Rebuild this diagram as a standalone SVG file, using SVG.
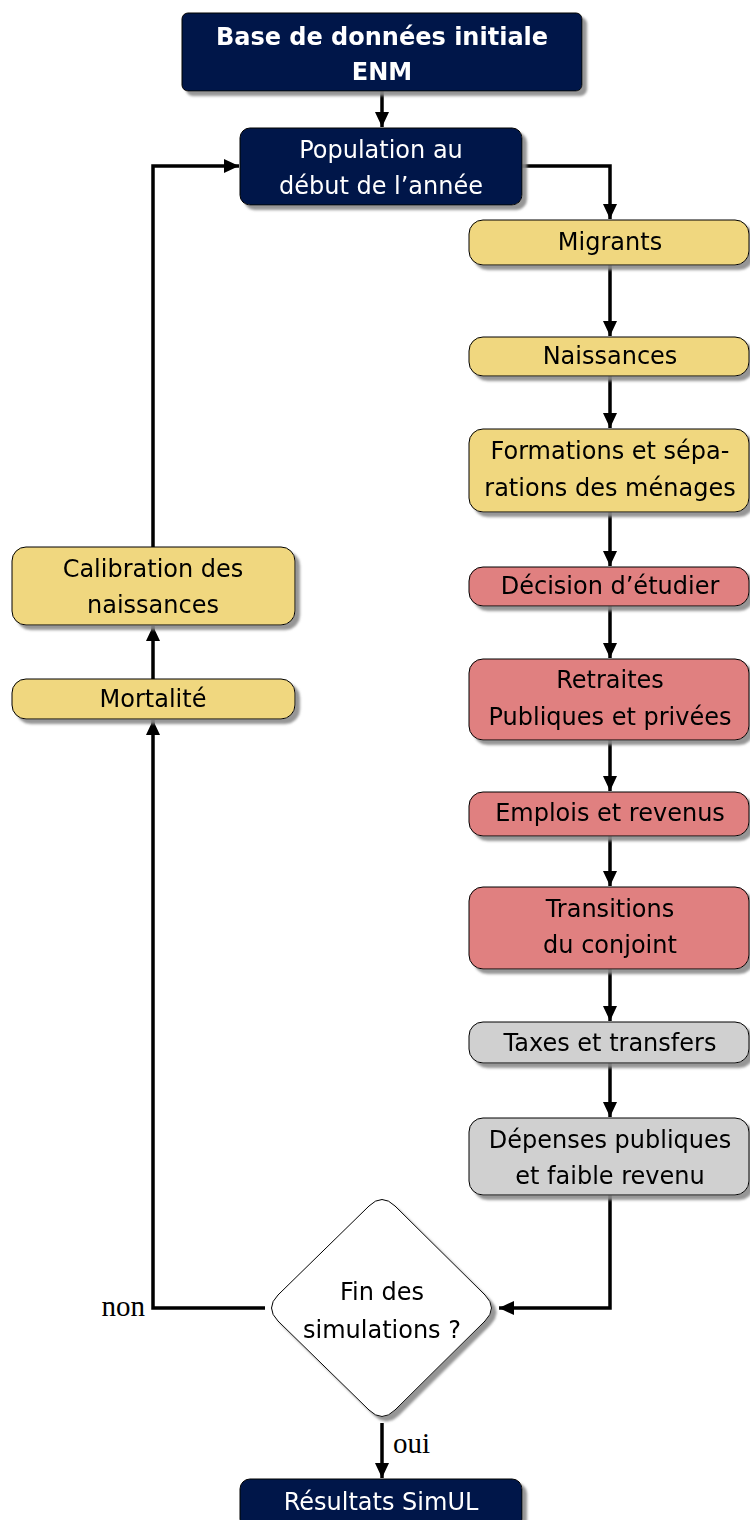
<svg xmlns="http://www.w3.org/2000/svg" width="750" height="1520" viewBox="0 0 750 1520">
<style>
.t{font-family:"DejaVu Sans","Liberation Sans",sans-serif;font-size:24px;text-anchor:middle;fill:#000}
.w{fill:#fff}
.b{font-weight:bold}
.lab{font-family:"Liberation Serif",serif;font-size:29px;fill:#000}
.navy{fill:#001548;stroke:#000;stroke-width:1}
.yel{fill:#F0D77F;stroke:#000;stroke-width:1}
.red{fill:#E08080;stroke:#000;stroke-width:1}
.gray{fill:#D0D0D0;stroke:#000;stroke-width:1}
.dia{fill:#fff;stroke:#000;stroke-width:1}
.c{fill:none;stroke:#000;stroke-width:3.5;marker-end:url(#ah)}
.sh{filter:url(#ds)}
</style>
<defs>
<marker id="ah" markerUnits="userSpaceOnUse" markerWidth="18" markerHeight="16" refX="15" refY="7" orient="auto">
<path d="M0,0 L15,7 L0,14 Z" fill="#000"/>
</marker>
<filter id="ds" x="-10%" y="-10%" width="130%" height="140%">
<feDropShadow dx="4.5" dy="4.5" stdDeviation="1.2" flood-color="#8a8a8a" flood-opacity="0.9"/>
</filter>
</defs>
<rect width="750" height="1520" fill="#fff"/>
<g id="connectors">
<path class="c" d="M382,91 V127"/>
<path class="c" d="M522,166 H610 V219"/>
<path class="c" d="M610,265 V336"/>
<path class="c" d="M610,376 V428"/>
<path class="c" d="M610,512 V566"/>
<path class="c" d="M610,606 V658"/>
<path class="c" d="M610,740 V791"/>
<path class="c" d="M610,836 V886"/>
<path class="c" d="M610,969 V1021"/>
<path class="c" d="M610,1063 V1117"/>
<path class="c" d="M610,1195 V1308 H499"/>
<path class="c" d="M265,1308 H153 V720"/>
<path class="c" d="M153,679 V626"/>
<path class="c" d="M153,547 V166 H239"/>
<path class="c" d="M382,1423 V1478"/>
</g>
<g id="n-base" class="sh"><rect class="navy" x="182" y="13" width="400" height="78" rx="6"/>
<text class="t w b" x="382" y="45">Base de données initiale</text><text class="t w b" x="382" y="80">ENM</text></g>
<g id="n-population" class="sh"><rect class="navy" x="240" y="128" width="282" height="77" rx="10"/>
<text class="t w" x="381" y="158">Population au</text><text class="t w" x="381" y="194">début de l’année</text></g>
<g id="n-migrants" class="sh"><rect class="yel" x="469" y="220" width="280" height="45" rx="14"/>
<text class="t" x="610" y="250">Migrants</text></g>
<g id="n-naissances" class="sh"><rect class="yel" x="469" y="337" width="280" height="39" rx="14"/>
<text class="t" x="610" y="364">Naissances</text></g>
<g id="n-formations" class="sh"><rect class="yel" x="469" y="429" width="280" height="83" rx="14"/>
<text class="t" x="610" y="459">Formations et sépa-</text><text class="t" x="610" y="496">rations des ménages</text></g>
<g id="n-decision" class="sh"><rect class="red" x="469" y="567" width="280" height="39" rx="14"/>
<text class="t" x="610" y="594">Décision d’étudier</text></g>
<g id="n-retraites" class="sh"><rect class="red" x="469" y="659" width="280" height="81" rx="14"/>
<text class="t" x="610" y="688">Retraites</text><text class="t" x="610" y="725">Publiques et privées</text></g>
<g id="n-emplois" class="sh"><rect class="red" x="469" y="792" width="280" height="44" rx="14"/>
<text class="t" x="610" y="821">Emplois et revenus</text></g>
<g id="n-transitions" class="sh"><rect class="red" x="469" y="887" width="280" height="82" rx="14"/>
<text class="t" x="610" y="917">Transitions</text><text class="t" x="610" y="953">du conjoint</text></g>
<g id="n-taxes" class="sh"><rect class="gray" x="469" y="1022" width="280" height="41" rx="14"/>
<text class="t" x="610" y="1051">Taxes et transfers</text></g>
<g id="n-depenses" class="sh"><rect class="gray" x="469" y="1118" width="280" height="77" rx="14"/>
<text class="t" x="610" y="1148">Dépenses publiques</text><text class="t" x="610" y="1184">et faible revenu</text></g>
<g id="n-calibration" class="sh"><rect class="yel" x="12" y="547" width="283" height="78" rx="14"/>
<text class="t" x="153" y="577">Calibration des</text><text class="t" x="153" y="613">naissances</text></g>
<g id="n-mortalite" class="sh"><rect class="yel" x="12" y="679" width="283" height="40" rx="14"/>
<text class="t" x="153" y="707">Mortalité</text></g>
<g id="n-fin" class="sh"><path class="dia" d="M369,1206 Q382,1193 395,1206 L485,1295 Q498,1308 485,1321 L395,1410 Q382,1423 369,1410 L278,1321 Q265,1308 278,1295 Z"/>
<text class="t" x="382" y="1300">Fin des</text><text class="t" x="382" y="1338">simulations ?</text></g>
<g id="n-resultats" class="sh"><rect class="navy" x="240" y="1479" width="282" height="50" rx="10"/>
<text class="t w" x="381" y="1510">Résultats SimUL</text></g>
<text class="lab" x="145" y="1316" text-anchor="end">non</text>
<text class="lab" x="393" y="1453">oui</text>
</svg>
